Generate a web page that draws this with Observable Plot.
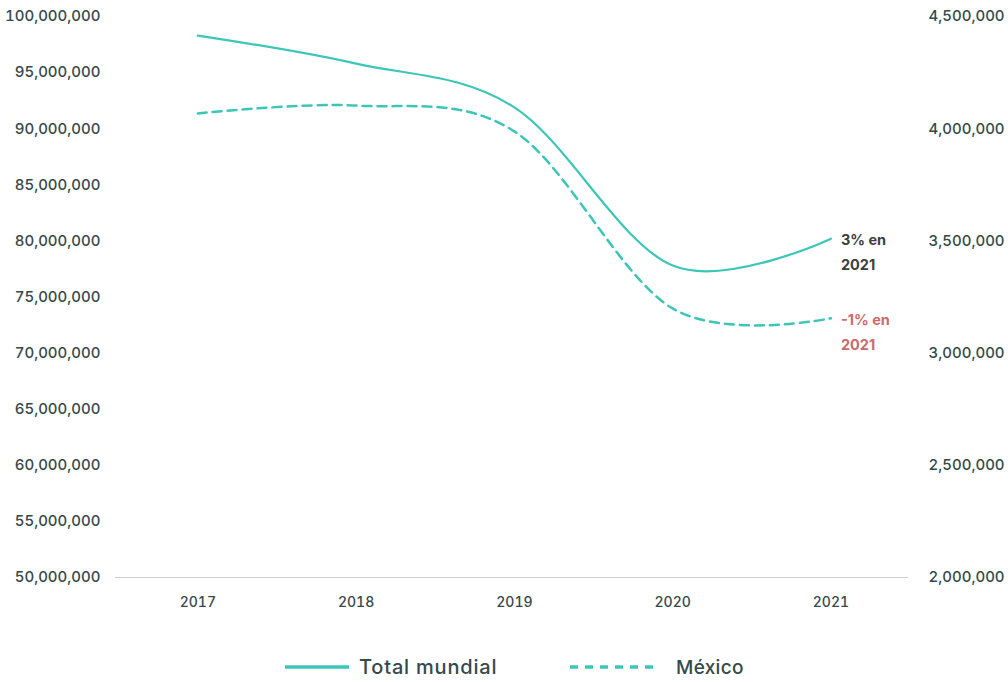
<!DOCTYPE html>
<html>
<head>
<meta charset="utf-8">
<script src="https://cdn.jsdelivr.net/npm/d3@7"></script>
<script src="https://cdn.jsdelivr.net/npm/@observablehq/plot@0.6"></script>
<style>
  html, body { margin: 0; padding: 0; background: #fff; }
  #wrap { position: relative; width: 1008px; height: 682px; font-family: Inter, "Noto Sans", sans-serif; }
  #legend { position: absolute; left: 0; top: 652px; width: 1008px; height: 32px; }
  .leg { position: absolute; top: 0; display: flex; align-items: center; color: #35494a; font-weight: 500; }
</style>
</head>
<body>
<div id="wrap">
  <div id="chart"></div>
  <div id="legend"></div>
</div>
<script>
// ---- data ----
const years = [2017, 2018, 2019, 2020, 2021];
const totalMundial = [98.3e6, 95.8e6, 91.9e6, 77.8e6, 80.2e6];
const mexico = [4.068e6, 4.103e6, 3.988e6, 3.199e6, 3.155e6];
const leftTicks = [50e6, 55e6, 60e6, 65e6, 70e6, 75e6, 80e6, 85e6, 90e6, 95e6, 100e6];
const rightTicks = [2.0e6, 2.5e6, 3.0e6, 3.5e6, 4.0e6, 4.5e6];
const seriesNames = ["Total mundial", "México"];
const notes = ["3% en\n2021", "-1% en\n2021"];

const teal = "#3cc6b8";
const ink = "#35494a";
const fmt = d3.format(",");

// map right axis (2M–4.5M) onto left axis domain (50M–100M)
const toLeft = v => 50e6 + (v - 2e6) * 20;
const toRight = v => 2e6 + (v - 50e6) / 20;

const totalData = years.map((y, i) => ({year: y, value: totalMundial[i]}));
const mexData = years.map((y, i) => ({year: y, value: toLeft(mexico[i])}));
const noteData = [
  {year: years[4], value: totalMundial[4], text: notes[0], color: "#3d3d3d"},
  {year: years[4], value: toLeft(mexico[4]), text: notes[1], color: "#cc6a6a"}
];

const chart = Plot.plot({
  width: 1008,
  height: 620,
  marginTop: 16,
  marginBottom: 43,
  marginLeft: 115,
  marginRight: 100,
  style: {fontFamily: "Inter, 'Noto Sans', sans-serif", fontSize: "15px", color: ink, background: "white"},
  x: {domain: [2016.48, 2021.49]},
  y: {domain: [50e6, 100e6]},
  marks: [
    Plot.ruleY([50e6], {stroke: "#cfcfcf", strokeWidth: 1.2}),
    Plot.axisY(leftTicks, {anchor: "left", tickSize: 0, tickPadding: 15, tickFormat: fmt, label: null, fontWeight: 500, fill: ink}),
    Plot.axisY(rightTicks.map(toLeft), {anchor: "right", tickSize: 0, tickPadding: 20, tickFormat: d => fmt(toRight(d)), label: null, fontWeight: 500, fill: ink}),
    Plot.axisX(years, {tickSize: 0, tickPadding: 20, tickFormat: d => String(d), label: null, fontWeight: 500, fill: ink, fontSize: 14}),
    Plot.line(mexData, {x: "year", y: "value", stroke: teal, strokeWidth: 2.5, strokeDasharray: "9,6", curve: "cardinal"}),
    Plot.line(totalData, {x: "year", y: "value", stroke: teal, strokeWidth: 2.2, curve: "cardinal"}),
    Plot.text(noteData, {x: "year", y: "value", text: "text", fill: "color", textAnchor: "start", dx: 10, dy: 11, lineHeight: 1.75, fontWeight: 700, fontSize: 14.5})
  ]
});
document.getElementById("chart").appendChild(chart);

// legend
const legend = document.getElementById("legend");
const items = [
  {name: seriesNames[0], left: 285, w: 64, dash: null, gap: 10, size: 20, ls: 0.8},
  {name: seriesNames[1], left: 570, w: 90, dash: "8,7", gap: 16, size: 19, ls: 0.3}
];
items.forEach(it => {
  const div = document.createElement("div");
  div.className = "leg";
  div.style.left = it.left + "px";
  div.style.fontSize = it.size + "px";
  div.style.letterSpacing = it.ls + "px";
  div.innerHTML = `<svg width="${it.w}" height="30" style="margin-right:${it.gap}px"><line x1="0" x2="${it.w}" y1="15" y2="15" stroke="${teal}" stroke-width="3.5" ${it.dash ? `stroke-dasharray="${it.dash}"` : ""}/></svg><span>${it.name}</span>`;
  legend.appendChild(div);
});
</script>
</body>
</html>
